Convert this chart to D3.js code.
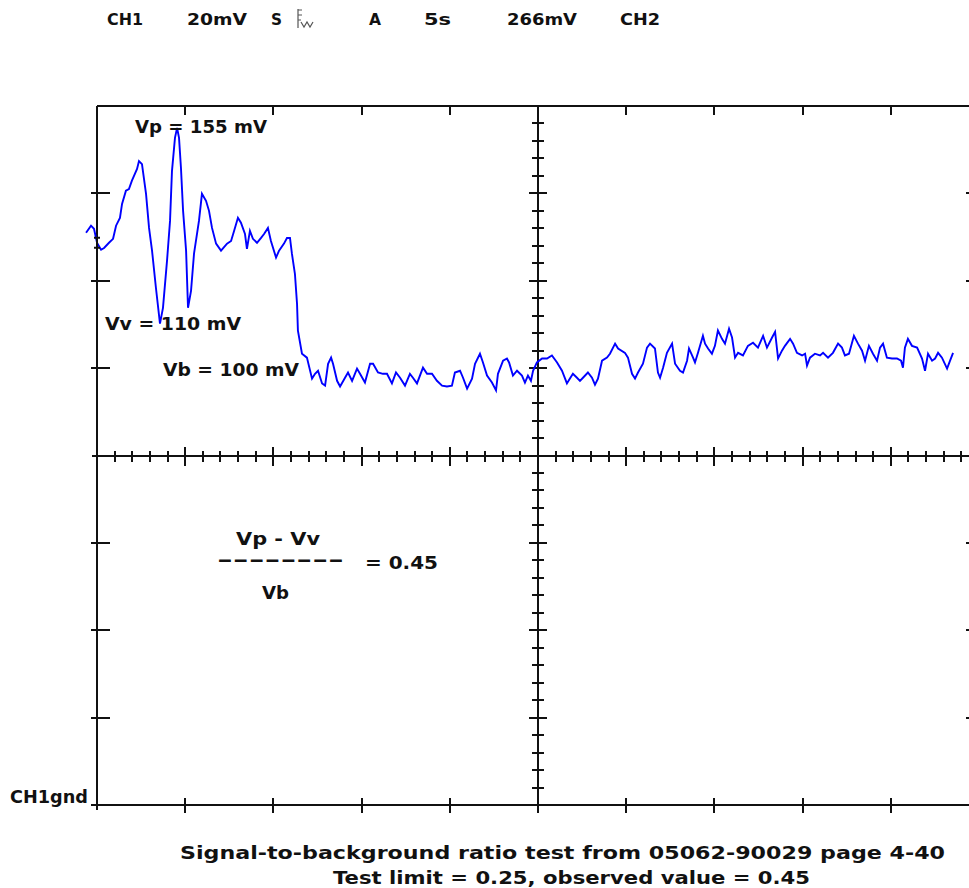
<!DOCTYPE html>
<html>
<head>
<meta charset="utf-8">
<script src="https://cdn.jsdelivr.net/npm/d3@7"></script>
<style>
  body { margin: 0; background: #fff; }
  text { font-family: "DejaVu Sans", sans-serif; font-weight: bold; fill: #111; }
</style>
</head>
<body>
<script>
// scope settings: 5 s/div, 20 mV/div, CH1 ground at the bottom line
const headerLabels = ["CH1", "20mV", "S", "A", "5s", "266mV", "CH2"];
const headerX = [107, 187, 271, 369, 424, 507, 620];
const headerW = [36, 60, 11, 12, 27, 70, 40];

const vp = 155, vv = 110, vb = 100;
const ratio = 0.45, testLimit = 0.25;

// trace, seconds and mV
const traceTime = [
  -0.62, -0.34, -0.17, 0, 0.23, 0.40, 0.68, 0.91, 1.08, 1.30, 1.42, 1.64, 1.81, 1.98, 2.27, 2.38,
  2.55, 2.78, 2.95, 3.12, 3.34, 3.57, 3.74, 3.97, 4.14, 4.25, 4.42, 4.54, 4.65, 4.76, 4.88, 5.05,
  5.16, 5.33, 5.50, 5.78, 5.95, 6.18, 6.35, 6.52, 6.75, 7.03, 7.37, 7.60, 7.77, 7.99, 8.16, 8.39,
  8.50, 8.67, 8.84, 9.07, 9.30, 9.47, 9.69, 9.86, 10.15, 10.32, 10.60, 10.77, 10.94, 11.05, 11.22, 11.34,
  11.39, 11.62, 11.90, 12.19, 12.36, 12.53, 12.76, 12.93, 13.10, 13.27, 13.38, 13.61, 13.78, 14.06, 14.23, 14.46,
  14.74, 14.91, 15.19, 15.48, 15.65, 15.93, 16.21, 16.44, 16.72, 16.95, 17.18, 17.46, 17.74, 17.91, 18.14, 18.48,
  18.71, 18.99, 19.27, 19.56, 19.84, 20.12, 20.29, 20.58, 20.75, 20.98, 21.26, 21.43, 21.71, 21.88, 22.11, 22.39,
  22.62, 22.73, 23.02, 23.24, 23.36, 23.58, 23.81, 24.09, 24.26, 24.43, 24.60, 24.72, 24.94, 25.23, 25.51, 25.79,
  26.08, 26.36, 26.64, 26.81, 26.98, 27.21, 27.38, 27.55, 27.83, 28.06, 28.23, 28.40, 28.63, 28.91, 29.08, 29.37,
  29.54, 29.93, 30.10, 30.33, 30.50, 30.67, 30.95, 31.18, 31.35, 31.63, 31.80, 31.92, 32.09, 32.31, 32.60, 32.77,
  33.05, 33.22, 33.45, 33.56, 33.79, 33.90, 34.07, 34.35, 34.47, 34.64, 34.86, 35.03, 35.20, 35.43, 35.60, 35.83,
  36.00, 36.17, 36.34, 36.62, 36.90, 37.19, 37.47, 37.76, 37.98, 38.27, 38.44, 38.61, 38.83, 39.00, 39.29, 39.46,
  39.68, 39.97, 40.14, 40.25, 40.42, 40.70, 40.99, 41.16, 41.44, 41.72, 42.01, 42.23, 42.40, 42.63, 42.91, 43.14,
  43.37, 43.54, 43.76, 43.99, 44.22, 44.39, 44.56, 44.78, 45.07, 45.35, 45.58, 45.69, 45.80, 45.97, 46.20, 46.49,
  46.77, 46.94, 47.11, 47.34, 47.51, 47.68, 47.90, 48.19, 48.36, 48.53
];
const traceMv = [
  131.0, 132.6, 131.9, 128.7, 127.1, 127.5, 128.7, 129.6, 132.6, 134.4, 137.6, 140.6, 141.0, 142.9, 145.6, 147.4,
  146.7, 139.9, 132.1, 126.9, 118.4, 110.2, 113.8, 124.6, 133.7, 145.1, 152.7, 155.0, 152.7, 145.8, 136.0, 126.9,
  113.8, 117.7, 126.2, 133.7, 139.9, 138.3, 136.0, 132.1, 128.5, 126.9, 128.5, 129.1, 131.4, 134.4, 133.3, 130.7,
  127.3, 131.4, 129.6, 128.7, 129.8, 130.7, 132.1, 129.1, 125.3, 126.9, 128.5, 129.8, 129.8, 126.2, 121.6, 114.7,
  108.6, 103.3, 102.4, 97.6, 98.7, 99.4, 96.5, 96.0, 101.0, 102.4, 101.0, 97.1, 95.8, 97.8, 99.0, 97.1,
  99.9, 98.7, 96.7, 101.0, 101.0, 99.0, 98.7, 98.7, 96.5, 99.0, 97.8, 96.0, 98.7, 97.8, 96.5, 100.1,
  98.7, 98.7, 97.1, 96.0, 95.8, 96.0, 99.0, 99.4, 97.8, 95.3, 97.6, 101.0, 103.3, 101.3, 98.3, 96.7,
  94.9, 98.7, 101.7, 102.2, 101.3, 98.3, 99.4, 98.3, 96.7, 98.3, 97.1, 99.4, 101.3, 102.2, 102.2, 102.9,
  101.3, 99.4, 96.5, 97.6, 98.7, 97.8, 97.1, 97.8, 99.0, 97.8, 96.2, 97.6, 101.7, 102.4, 103.3, 105.6,
  104.5, 103.5, 102.4, 98.7, 97.6, 99.0, 101.0, 104.7, 105.6, 104.5, 99.0, 97.8, 100.1, 103.5, 105.6, 101.0,
  99.4, 99.0, 101.7, 104.5, 102.4, 101.3, 103.5, 107.4, 105.6, 104.5, 103.3, 105.1, 108.6, 106.7, 105.6, 109.0,
  107.0, 102.4, 103.5, 102.9, 105.1, 105.8, 104.7, 107.4, 104.7, 107.0, 108.3, 102.2, 104.0, 105.1, 106.7, 105.6,
  103.5, 102.9, 103.3, 100.6, 102.4, 103.3, 102.9, 103.5, 102.4, 103.5, 105.6, 104.7, 102.9, 103.3, 107.4, 105.6,
  104.0, 101.7, 105.1, 103.3, 101.7, 104.7, 105.6, 102.4, 102.2, 102.2, 101.7, 100.1, 104.7, 106.7, 105.1, 104.7,
  102.2, 99.4, 103.3, 101.7, 102.2, 103.5, 102.4, 99.9, 101.7, 103.5
];

const width = 969, height = 888;

const x = d3.scaleLinear().domain([0, 50]).range([97, 979]);
const y = d3.scaleLinear().domain([0, 160]).range([805, 106]);

const majorX = d3.range(0, 51, 5);
const minorX = d3.range(0, 50.5, 1).filter(d => d % 5 !== 0);
const majorY = d3.range(0, 161, 20);
const minorY = d3.range(0, 160.5, 4).filter(d => d % 20 !== 0);

const svg = d3.select("body").append("svg")
    .attr("width", width)
    .attr("height", height);

const grid = svg.append("g")
    .attr("stroke", "#111")
    .attr("stroke-width", 2)
    .attr("shape-rendering", "crispEdges");

// frame
grid.append("line").attr("x1", x(0)).attr("x2", x(50) + 5).attr("y1", y(160)).attr("y2", y(160));
grid.append("line").attr("x1", x(0)).attr("x2", x(50) + 5).attr("y1", y(0)).attr("y2", y(0));
grid.append("line").attr("x1", x(0)).attr("x2", x(0)).attr("y1", y(160)).attr("y2", y(0) + 5);
grid.append("line").attr("x1", x(50)).attr("x2", x(50)).attr("y1", y(160)).attr("y2", y(0));

// center cross
grid.append("line").attr("x1", x(0) - 5).attr("x2", x(50)).attr("y1", y(80)).attr("y2", y(80));
grid.append("line").attr("x1", x(25)).attr("x2", x(25)).attr("y1", y(160)).attr("y2", y(0));

// ticks on the center cross
grid.selectAll(".hmin").data(minorX).enter().append("line")
    .attr("x1", d => x(d)).attr("x2", d => x(d))
    .attr("y1", y(80) - 5).attr("y2", y(80) + 6);
grid.selectAll(".hmaj").data(majorX.filter(d => d > 0 && d < 50)).enter().append("line")
    .attr("x1", d => x(d)).attr("x2", d => x(d))
    .attr("y1", y(80) - 9).attr("y2", y(80) + 10);
grid.selectAll(".vmin").data(minorY).enter().append("line")
    .attr("x1", x(25) - 6).attr("x2", x(25) + 6)
    .attr("y1", d => y(d)).attr("y2", d => y(d));
grid.selectAll(".vmaj").data(majorY.filter(d => d > 0 && d < 160)).enter().append("line")
    .attr("x1", x(25) - 9).attr("x2", x(25) + 9)
    .attr("y1", d => y(d)).attr("y2", d => y(d));

// ticks on the frame
grid.selectAll(".top").data(majorX.filter(d => d > 0 && d < 50)).enter().append("line")
    .attr("x1", d => x(d)).attr("x2", d => x(d))
    .attr("y1", y(160)).attr("y2", y(160) + 9);
grid.selectAll(".bot").data(majorX.filter(d => d > 0 && d < 50)).enter().append("line")
    .attr("x1", d => x(d)).attr("x2", d => x(d))
    .attr("y1", y(0) - 7).attr("y2", y(0) + 8);
grid.selectAll(".left").data(majorY.filter(d => d < 160 && d !== 80)).enter().append("line")
    .attr("x1", x(0) - 6).attr("x2", x(0) + 13)
    .attr("y1", d => y(d)).attr("y2", d => y(d));
grid.selectAll(".right").data(majorY.filter(d => d > 0 && d < 160 && d !== 80)).enter().append("line")
    .attr("x1", x(50) - 13).attr("x2", x(50) + 6)
    .attr("y1", d => y(d)).attr("y2", d => y(d));

// trace
const line = d3.line()
    .x((d, i) => x(traceTime[i]))
    .y(d => y(d));

svg.append("path")
    .attr("d", line(traceMv))
    .attr("fill", "none")
    .attr("stroke", "#0000ff")
    .attr("stroke-width", 1.9)
    .attr("stroke-linejoin", "miter");

// small trigger-point marker where the trace meets the left edge
const trig = traceMv[3];
svg.append("path")
    .attr("d", `M${x(0) - 3},${y(trig) - 5}H${x(0) + 3}M${x(0)},${y(trig) - 5}V${y(trig) + 5}M${x(0) - 3},${y(trig) + 5}H${x(0) + 3}`)
    .attr("fill", "none")
    .attr("stroke", "#111")
    .attr("stroke-width", 2);

// header
svg.selectAll(".hdr").data(headerLabels).enter().append("text")
    .attr("x", (d, i) => headerX[i])
    .attr("y", 25)
    .attr("font-size", 16)
    .attr("textLength", (d, i) => headerW[i])
    .attr("lengthAdjust", "spacingAndGlyphs")
    .text(d => d);

// trigger slope glyph after "S"
svg.append("path")
    .attr("d", "M298,9V28M298,10H302M298,15H302M298,20H301M301,22L304,27L307,22L310,27L313,22")
    .attr("fill", "none")
    .attr("stroke", "#555")
    .attr("stroke-width", 1.2);

function label(str, x0, yb, w, size) {
  svg.append("text")
      .attr("x", x0).attr("y", yb)
      .attr("font-size", size || 17)
      .attr("textLength", w)
      .attr("lengthAdjust", "spacingAndGlyphs")
      .text(str);
}

label("Vp = " + vp + " mV", 135, y(vp) + 5, 132);
label("Vv = " + vv + " mV", 105, y(vv) + 6, 136);
label("Vb = " + vb + " mV", 163, y(vb) + 8, 136);

label("Vp - Vv", 236, 545, 84);
label("--------", 217, 566, 127);
label("= " + ratio.toFixed(2), 365, 569, 73);
label("Vb", 262, 599, 27);

label("CH1gnd", 10, 803, 78);

label("Signal-to-background ratio test from 05062-90029 page 4-40", 180, 859, 765, 18);
label("Test limit = " + testLimit.toFixed(2) + ", observed value = " + ratio.toFixed(2), 333, 884, 477, 18);
</script>
</body>
</html>
